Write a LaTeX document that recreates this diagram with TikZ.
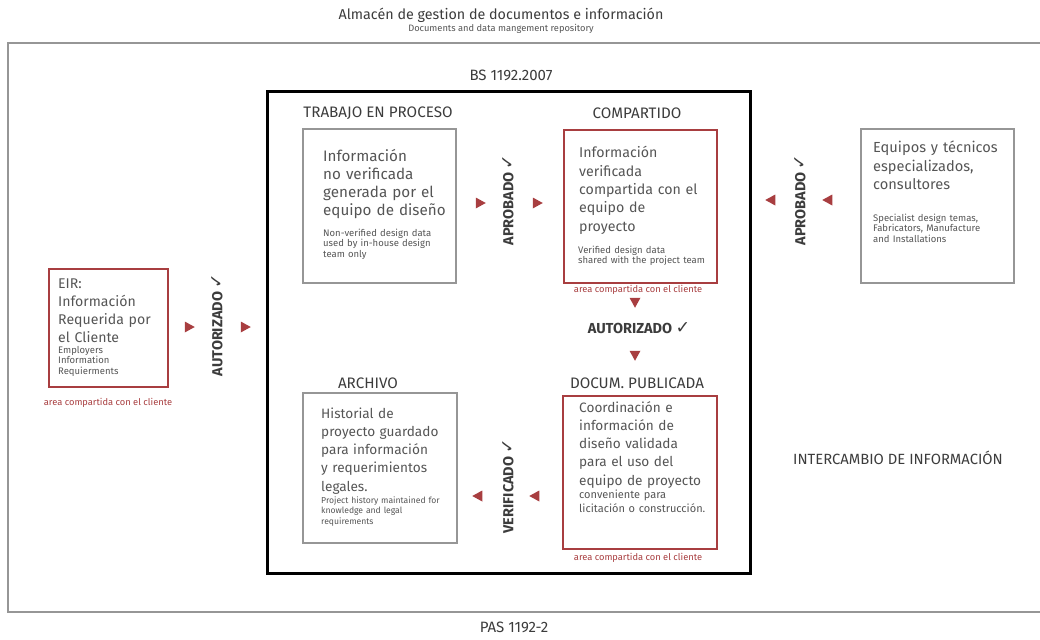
\documentclass[tikz,border=0pt]{standalone}
\usepackage{fontspec}
\setmainfont{Fira Sans}
\newfontfamily\symfont{DejaVu Sans}
\usetikzlibrary{shapes.geometric}
\definecolor{boxred}{RGB}{168,62,64}
\definecolor{framegray}{RGB}{150,150,150}
\definecolor{txtgray}{RGB}{85,85,85}
\definecolor{lblgray}{RGB}{60,60,60}
\newcommand{\tickmark}{{\symfont\mdseries\scalebox{1.2}{\char"2713}}}
\tikzset{
  graybox/.style={draw=framegray, line width=2.2pt, inner sep=0pt, anchor=north west},
  redbox/.style={draw=boxred, line width=2.2pt, inner sep=0pt, anchor=north west},
  txtbase/.style={anchor=base west, inner sep=0pt, align=left, text=txtgray},
  maintxt/.style={txtbase, font=\fontsize{#1}{18.3}\selectfont},
  maintxt/.default=13.6,
  smalltxt/.style={txtbase, font=\fontsize{#1}{10.8}\selectfont},
  smalltxt/.default=9.5,
  midtxt/.style={txtbase, font=\fontsize{11}{14}\selectfont},
  head/.style={inner sep=0pt, text=lblgray, font=\fontsize{15.2}{17}\selectfont},
  vlabel/.style={inner sep=0pt, rotate=90, text=lblgray, font=\bfseries\fontsize{14.5}{16}\selectfont},
  hlabel/.style={inner sep=0pt, text=lblgray, font=\bfseries\fontsize{14.5}{16}\selectfont},
  areacap/.style={inner sep=0pt, text=boxred, font=\fontsize{9.3}{11}\selectfont},
  marker/.style={isosceles triangle, isosceles triangle stretches, fill=boxred,
    draw=none, inner sep=0pt, minimum width=11pt, minimum height=10pt},
}
\begin{document}
\begin{tikzpicture}[x=1pt,y=-1pt]
\useasboundingbox (0,0) rectangle (1040,639);

% repository frame (open to the right)
\draw[framegray, line width=2.2pt] (1041,43) -- (8,43) -- (8,612) -- (1041,612);

% titles
\node[inner sep=0pt, text=lblgray, font=\fontsize{14.3}{16}\selectfont] (title) at (501,15)
  {Almacén de gestion de documentos e información};
\node[inner sep=0pt, text=txtgray, font=\fontsize{9.3}{10}\selectfont] (subtitle) at (501,29)
  {Documents and data mangement repository};
\node[head, font=\fontsize{15}{17}\selectfont] (bs) at (511,75) {BS 1192.2007};
\node[head, font=\fontsize{15}{17}\selectfont] (pas) at (514,627) {PAS 1192-2};
\node[head, font=\fontsize{14.8}{17}\selectfont] (exch) at (898,458) {INTERCAMBIO DE INFORMACIÓN};

% BS 1192 container
\node[draw=black, line width=2.6pt, inner sep=0pt, anchor=north west,
      minimum width=483pt, minimum height=482pt] (cde) at (266,90) {};

% section headings
\node[head] (hwip) at (378,113) {TRABAJO EN PROCESO};
\node[head] (hshared) at (637,113) {COMPARTIDO};
\node[head] (harch) at (368,383) {ARCHIVO};
\node[head] (hpub) at (637,383) {DOCUM. PUBLICADA};

% boxes
\node[graybox, minimum width=153pt, minimum height=154pt] (wip) at (302,128) {};
\node[redbox, minimum width=153pt, minimum height=153pt] (shared) at (563,129) {};
\node[graybox, minimum width=153pt, minimum height=154pt] (spec) at (860,128) {};
\node[redbox, minimum width=119pt, minimum height=118pt] (eir) at (48,268) {};
\node[graybox, minimum width=154pt, minimum height=150pt] (arch) at (302,392) {};
\node[redbox, minimum width=154pt, minimum height=153pt] (pub) at (562,395) {};

% box texts
\node[maintxt=15.2, text width=140pt] (wipA) at (323,161)
  {Información\\no verificada\\generada por el\\equipo de diseño};
\node[smalltxt, text width=140pt] (wipB) at (323,236)
  {Non-verified design data\\used by in-house design\\team only};

\node[maintxt=14.2, text width=140pt] (sharedA) at (579,158)
  {Información\\verificada\\compartida con el\\equipo de\\proyecto};
\node[smalltxt, text width=140pt] (sharedB) at (578,253)
  {Verified design data\\shared with the project team};

\node[maintxt=14.6, text width=145pt] (specA) at (873,153)
  {Equipos y técnicos\\especializados,\\consultores};
\node[smalltxt, text width=140pt] (specB) at (873,221)
  {Specialist design temas,\\Fabricators, Manufacture\\and Installations};

\node[maintxt=14.1, text width=110pt] (eirA) at (58,288)
  {EIR:\\Información\\Requerida por\\el Cliente};
\node[smalltxt, text width=110pt] (eirB) at (58,353)
  {Employers\\Information\\Requierments};

\node[maintxt, text width=140pt] (archA) at (321,418)
  {Historial de\\proyecto guardado\\para información\\y requerimientos\\legales.};
\node[smalltxt=8.6, text width=140pt] (archB) at (321,503)
  {Project history maintained for\\knowledge and legal\\requirements};

\node[maintxt, text width=140pt] (pubA) at (579,412)
  {Coordinación e\\información de\\diseño validada\\para el uso del\\equipo de proyecto};
\node[midtxt, text width=140pt] (pubB) at (579,498)
  {conveniente para\\licitación o construcción.};

% client shared-area captions
\node[areacap] (capshared) at (638,290) {area compartida con el cliente};
\node[areacap] (capeir) at (108,403) {area compartida con el cliente};
\node[areacap] (cappub) at (638,558) {area compartida con el cliente};

% approval steps
\node[marker] (e1) at (188,327) {};
\node[vlabel] (lauth) at (217,325) {AUTORIZADO \tickmark};
\node[marker] (e2) at (244,327) {};

\node[marker] (w1) at (479,203) {};
\node[vlabel] (lappr) at (508,200) {APROBADO \tickmark};
\node[marker] (w2) at (536,203) {};

\node[marker, shape border rotate=180] (s1) at (772,200) {};
\node[vlabel] (lappr2) at (800,200) {APROBADO \tickmark};
\node[marker, shape border rotate=180] (s2) at (829,200) {};

\node[marker, shape border rotate=270] (d1) at (635,301) {};
\node[hlabel] (lauth2) at (639,328) {AUTORIZADO \tickmark};
\node[marker, shape border rotate=270] (d2) at (635,354) {};

\node[marker, shape border rotate=180] (v1) at (479,496) {};
\node[vlabel] (lver) at (508,486) {VERIFICADO \tickmark};
\node[marker, shape border rotate=180] (v2) at (536,496) {};
\end{tikzpicture}
\end{document}
